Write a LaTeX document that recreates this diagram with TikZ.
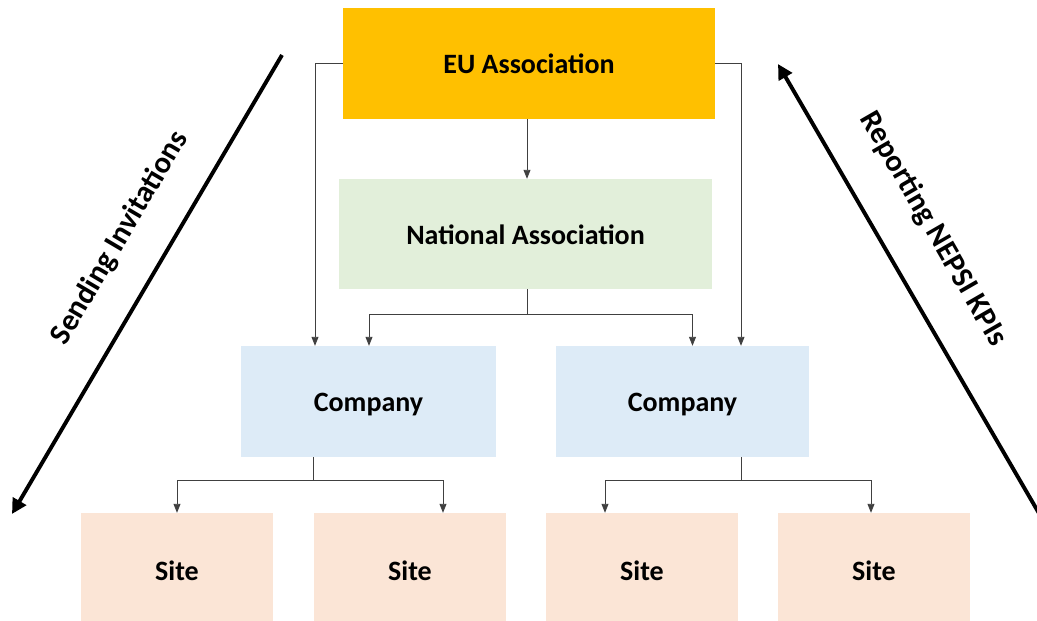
\documentclass[tikz,border=0pt]{standalone}
\usepackage{fontspec}
\setmainfont{Carlito}
\usetikzlibrary{arrows.meta,calc}
\definecolor{euc}{HTML}{FFC000}
\definecolor{nac}{HTML}{E2EFDA}
\definecolor{coc}{HTML}{DDEBF7}
\definecolor{sic}{HTML}{FBE5D6}
\begin{document}
\begin{tikzpicture}[x=1pt,y=-1pt,
  box/.style={rectangle,inner sep=0pt,text height=20pt,text depth=0pt,font=\fontsize{28}{32}\selectfont\bfseries},
  conn/.style={draw=black!75,line width=0.9pt,-{Triangle[width=7pt,length=9pt]}},
  connl/.style={draw=black!75,line width=0.9pt},
  bigarrow/.style={draw=black,line width=3.9pt,-{Triangle[width=15pt,length=15pt]}},
  sidelabel/.style={font=\fontsize{30.5}{34}\selectfont\bfseries}]
\useasboundingbox (0,0) rectangle (1037,621);
\begin{scope}
\clip (0,0) rectangle (1037,621);
\node[box,fill=euc,minimum width=372pt,minimum height=111pt] (eu) at (529,63.5) {EU Association};
\node[box,fill=nac,minimum width=373pt,minimum height=110pt] (na) at (525.5,234) {National Association};
\node[box,fill=coc,minimum width=255pt,minimum height=111pt] (c1) at (368.5,401.5) {Company};
\node[box,fill=coc,minimum width=253pt,minimum height=111pt] (c2) at (682.5,401.5) {Company};
\foreach \n/\x in {s1/177,s2/410,s3/642,s4/874}
  \node[box,fill=sic,minimum width=192pt,minimum height=114pt] (\n) at (\x,570) {Site};

% EU connectors
\draw[conn] (eu.west) -| ([xshift=-53.5pt]c1.north);
\draw[conn] (eu.east) -| ([xshift=58.5pt]c2.north);
\draw[conn] ([xshift=-2pt]eu.south) -- ([xshift=-2pt]eu.south |- na.north);
% National association
\draw[connl] ([xshift=1.5pt]na.south) -- ++(0,25) coordinate (nb);
\draw[conn] (nb) -| ([xshift=0.5pt]c1.north);
\draw[conn] (nb) -| ([xshift=10pt]c2.north);
% Company 1
\draw[connl] ([xshift=-55.5pt]c1.south) -- ++(0,23) coordinate (c1b);
\draw[conn] (c1b) -| (s1.north);
\draw[conn] (c1b) -| ([xshift=33pt]s2.north);
% Company 2
\draw[connl] ([xshift=58.5pt]c2.south) -- ++(0,23) coordinate (c2b);
\draw[conn] (c2b) -| ([xshift=-37pt]s3.north);
\draw[conn] (c2b) -| ([xshift=-3pt]s4.north);

% big arrows
\coordinate (a1s) at (282,55);
\coordinate (a1e) at (12,514);
\coordinate (a2s) at (1040,515);
\coordinate (a2e) at (778,64);
\draw[bigarrow] (a1s) -- (a1e);
\draw[bigarrow] (a2s) -- (a2e);
\node[sidelabel,rotate=59.5] (l1) at (120,238) {Sending Invitations};
\node[sidelabel,rotate=-60] (l2) at (933,229) {Reporting NEPSI KPIs};
\end{scope}
\end{tikzpicture}
\end{document}
